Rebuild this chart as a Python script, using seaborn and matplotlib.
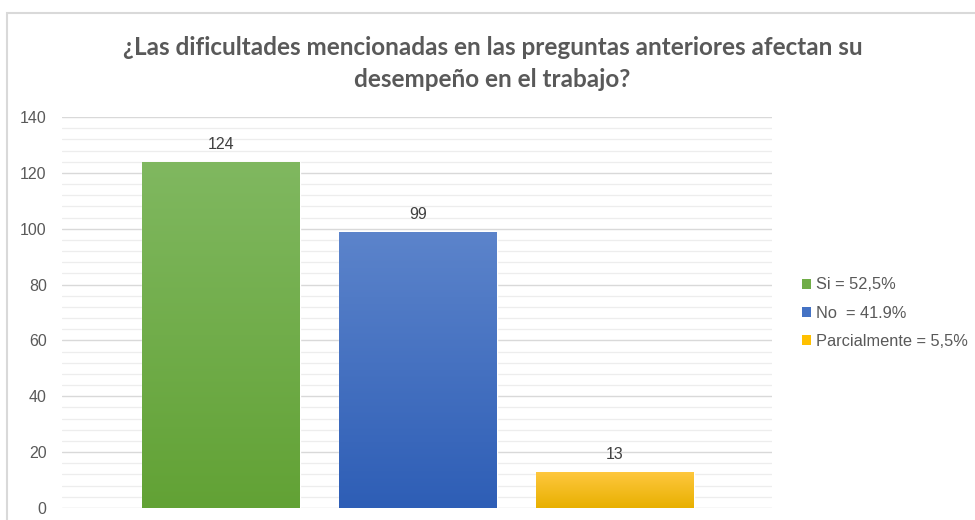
import matplotlib
matplotlib.use("Agg")
import matplotlib.pyplot as plt
import seaborn as sns
import pandas as pd
import numpy as np
from matplotlib.patches import Rectangle, Patch
from matplotlib.ticker import MultipleLocator
from matplotlib.colors import LinearSegmentedColormap

categories = ["Si", "No", "Parcialmente"]
values = [124, 99, 13]
legend_labels = ["Si = 52,5%", "No  = 41.9%", "Parcialmente = 5,5%"]
colors = ["#70AD47", "#4472C4", "#FFC000"]
grad_top = ["#80B860", "#5C84CB", "#FFC840"]
grad_bot = ["#62A235", "#2E5EB6", "#E8B000"]
title = "¿Las dificultades mencionadas en las preguntas anteriores afectan su\ndesempeño en el trabajo?"

sns.set_theme(style="white")
plt.rcParams['font.family'] = ['Liberation Sans', 'DejaVu Sans']

df = pd.DataFrame({"cat": categories, "val": values})

fig = plt.figure(figsize=(9.75, 5.2), dpi=100)
ax = fig.add_axes([62/975, 1-508/520, (772-62)/975, (508-117)/520])

sns.barplot(data=df, x="cat", y="val", hue="cat", palette=colors, ax=ax,
            width=0.80, legend=False, saturation=1, zorder=3)

ax.set_ylim(0, 140)
ax.set_xlim(-0.807, 2.797)

# gradient fill on each bar
for i, p in enumerate(ax.patches):
    x0, y0 = p.get_x(), p.get_y()
    w, h = p.get_width(), p.get_height()
    cmap = LinearSegmentedColormap.from_list("g", [grad_bot[i], grad_top[i]])
    grad = np.linspace(0, 1, 256).reshape(-1, 1)
    im = ax.imshow(grad, cmap=cmap, origin="lower", aspect="auto",
                   extent=[x0, x0 + w, y0, y0 + h], zorder=4)
    im.set_clip_path(p)
ax.set_xlim(-0.807, 2.797)
ax.set_ylim(0, 140)

ax.yaxis.set_major_locator(MultipleLocator(20))
ax.yaxis.set_minor_locator(MultipleLocator(4))
ax.grid(which="major", axis="y", color="#D9D9D9", linewidth=1.0, zorder=0)
ax.grid(which="minor", axis="y", color="#EDEDED", linewidth=0.9, zorder=0)
ax.set_axisbelow(True)
for s in ax.spines.values():
    s.set_visible(False)
ax.set_xticks([])
ax.set_xlabel("")
ax.set_ylabel("")
ax.tick_params(axis="y", which="both", length=0, labelsize=11.5, labelcolor="#595959", pad=11)

for c in ax.containers:
    ax.bar_label(c, padding=7, fontsize=11.5, color="#404040", zorder=5)

fig.text(0.505, 1-63.5/520, title, ha="center", va="center", fontsize=17.5, fontweight="bold",
         color="#595959", family=["Liberation Sans Narrow", "Lato", "DejaVu Sans"], linespacing=1.52)

handles = [Patch(facecolor=c, edgecolor="none") for c in colors]
fig.legend(handles, legend_labels, loc="center left", bbox_to_anchor=(797/975, 1-313/520),
           frameon=False, fontsize=11.8, labelcolor="#595959", handlelength=0.55, handleheight=0.55,
           handletextpad=0.3, labelspacing=0.8, borderaxespad=0, borderpad=0.3)

fig.patches.append(Rectangle((7/975, -0.1), 1.2, 1-13/520+0.1, transform=fig.transFigure,
                             fill=False, edgecolor="#D9D9D9", linewidth=1.5))

fig.savefig("out.png", dpi=100)
